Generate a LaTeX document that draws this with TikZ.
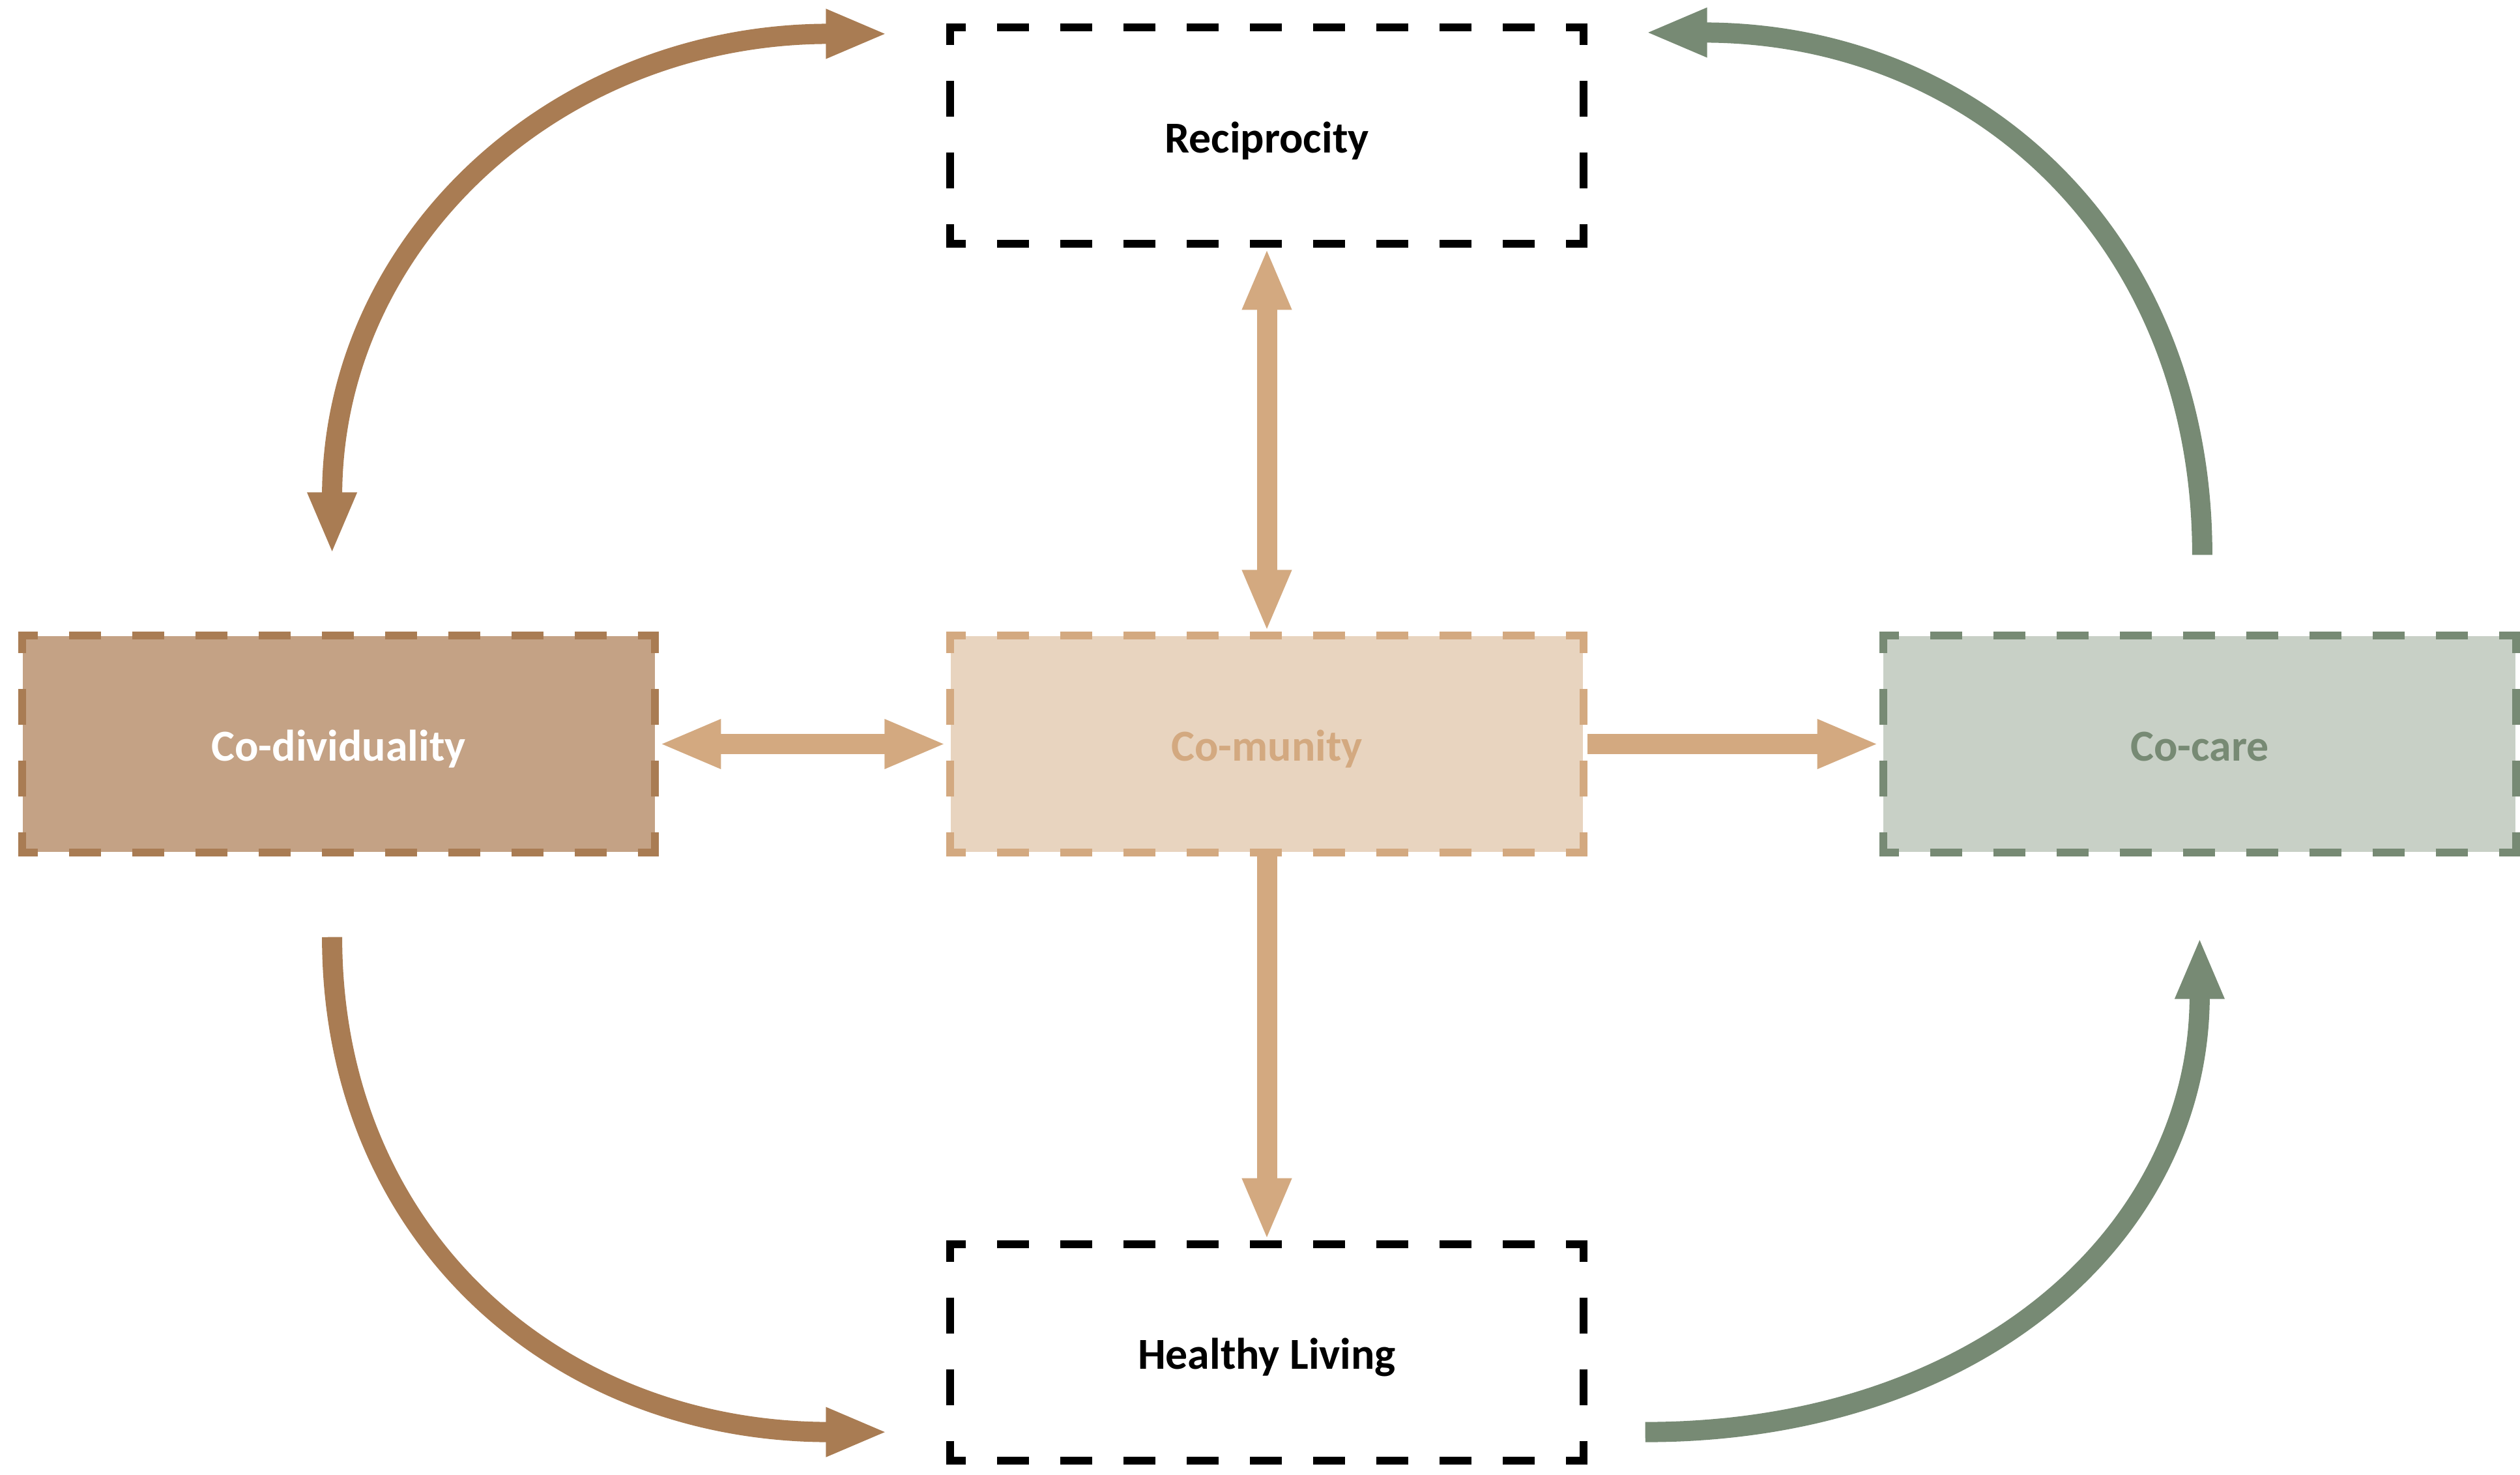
\documentclass[tikz,border=0pt]{standalone}
\usepackage{fontspec}
\setmainfont{Carlito}
\usepackage{tikz}
\usetikzlibrary{arrows.meta,positioning,calc}
\definecolor{barkbrown}{HTML}{A97C53}
\definecolor{barkfill}{HTML}{C4A285}
\definecolor{sandtan}{HTML}{D3A980}
\definecolor{sandfill}{HTML}{E8D4BF}
\definecolor{sagegreen}{HTML}{778A74}
\definecolor{sagefill}{HTML}{C8D0C6}

\begin{document}
\begin{tikzpicture}[
  >={Triangle[length=0.95cm,width=0.69cm]},
  concept/.style={minimum width=9.7cm,minimum height=3.31cm,inner sep=0pt,text height=14.8pt,text depth=0pt,font=\fontsize{19.3}{23}\selectfont\bfseries},
  hedge/.style={line width=0.12cm,dash pattern=on 0.49cm off 0.48cm,dash phase=0.19cm,shorten <=-0.06cm,shorten >=-0.06cm},
  vedge/.style={line width=0.12cm,dash pattern=on 0.55cm off 0.55cm,dash phase=0.28cm},
  arrow/.style={->,line width=0.31cm,shorten <=0.06cm,shorten >=0.06cm},
  curvearrow/.style={->,line width=0.31cm}
]
\useasboundingbox (0,0) rectangle (38.67,-22.62);
\node[concept,fill=sandfill,text=sandtan] (comm) at (19.44,-11.415) {Co-munity};
\node[concept,fill=barkfill,text=white,left=4.53cm of comm] (codiv) {Co-dividuality};
\node[concept,fill=sagefill,text=sagegreen,right=4.6cm of comm] (cocare) {Co-care};
\node[concept,above=6.01cm of comm] (recip) {Reciprocity};
\node[concept,below=6.01cm of comm] (health) {Healthy Living};
% dashed frames, one side at a time
\foreach \n/\c in {recip/black,health/black,comm/sandtan,codiv/barkbrown,cocare/sagegreen} {
  \draw[hedge,\c] (\n.north west) -- (\n.north east);
  \draw[hedge,\c] (\n.south west) -- (\n.south east);
  \draw[vedge,\c] (\n.north west) -- (\n.south west);
  \draw[vedge,\c] (\n.north east) -- (\n.south east);
}
\draw[arrow,<->,sandtan] (codiv) -- (comm);
\draw[arrow,sandtan] (comm) -- (cocare);
\draw[arrow,<->,sandtan] (recip) -- (comm);
\draw[arrow,sandtan] (comm) -- (health);
% outer loop
\coordinate (tlA) at ($(codiv.north)+(-0.1,1.25)$);
\coordinate (tlB) at ($(recip.north west)+(-0.96,-0.1)$);
\coordinate (blA) at ($(codiv.south)+(-0.1,-1.3)$);
\coordinate (blB) at ($(health.south west)+(-0.96,0.44)$);
\coordinate (trA) at ($(cocare.north)+(0.04,1.24)$);
\coordinate (trB) at ($(recip.north east)+(0.95,-0.08)$);
\coordinate (brA) at ($(health.south east)+(0.95,0.44)$);
\coordinate (brB) at ($(cocare.south)+(0,-1.3)$);
\draw[curvearrow,<->,barkbrown] (tlA) .. controls +(0,4.78) and +(-5.11,0) .. (tlB);
\draw[curvearrow,barkbrown] (blA) .. controls +(0,-4.55) and +(-5.12,0) .. (blB);
\draw[curvearrow,sagegreen] (trA) .. controls +(0,4.8) and +(5.13,0) .. (trB);
\draw[curvearrow,sagegreen] (brA) .. controls +(5.11,0) and +(0,-4.55) .. (brB);
\end{tikzpicture}
\end{document}
